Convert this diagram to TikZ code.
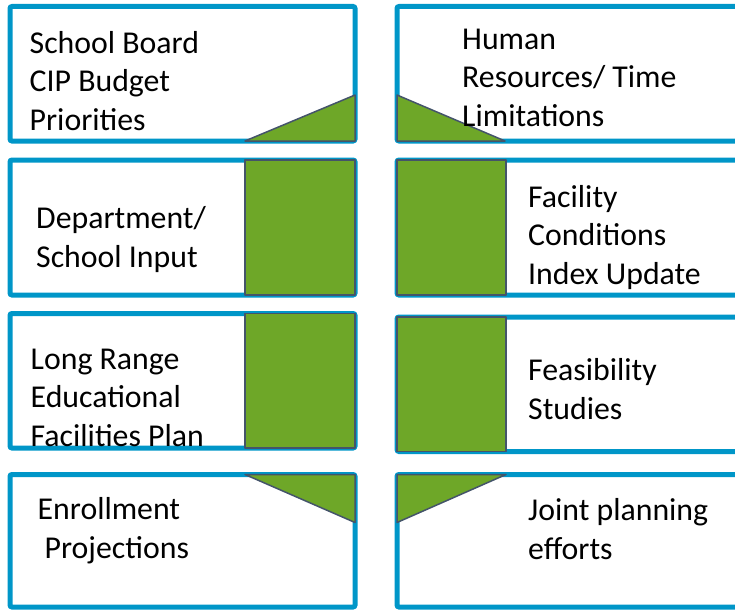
\documentclass[tikz,border=0pt]{standalone}
\usepackage{fontspec}
\setmainfont{Carlito}
\usetikzlibrary{positioning}
\definecolor{frameblue}{RGB}{0,150,200}
\definecolor{leafgreen}{RGB}{110,167,40}
\definecolor{slate}{RGB}{68,84,106}

\begin{document}
\begin{tikzpicture}[x=1pt,y=-1pt,
	frame/.style={draw=frameblue, line width=5pt, rounded corners=2pt, minimum width=345pt, inner sep=0pt, outer sep=0pt},
	wedge/.style={fill=leafgreen, draw=slate, line width=1.5pt, line join=round},
	boxtext/.style={font=\fontsize{31.8}{38.5}\selectfont, align=left, anchor=base west, inner sep=0pt}]

				\useasboundingbox (0,0) rectangle (735,610);
				\clip (0,0) rectangle (735,610);

				% ROW 1

				\node[frame, minimum height=134.5pt] (bl1) at (182.5,73.75) {};
				\node[frame, minimum height=134.5pt] (br1) at (569.5,73.75) {};
				\draw[wedge] (bl1.south east) -- ++(-110,0) -- ++(110,-46) -- cycle;
				\draw[wedge] (br1.south west) -- ++(108,0) -- ++(-108,-46) -- cycle;

				% ROW 2

				\node[frame, minimum height=135pt] (bl2) at (182.5,227.5) {};
				\node[frame, minimum height=135pt] (br2) at (569.5,227.5) {};
				\draw[wedge] (bl2.north east) rectangle ++(-110,135);
				\draw[wedge] (br2.north west) rectangle ++(109,135);

				% ROW 3

				\node[frame, minimum height=134.5pt] (bl3) at (182.5,380.75) {};
				\node[frame, minimum height=134.5pt] (br3) at (569.5,384.25) {};
				\draw[wedge] (bl3.north east) rectangle ++(-110,134.5);
				\draw[wedge] (br3.north west) rectangle ++(109,134.5);

				% ROW 4

				\node[frame, minimum height=132.5pt] (bl4) at (182.5,540.75) {};
				\node[frame, minimum height=132.5pt] (br4) at (569.5,540.75) {};
				\draw[wedge] (bl4.north east) -- ++(-110,0) -- ++(110,48) -- cycle;
				\draw[wedge] (br4.north west) -- ++(109,0) -- ++(-109,48) -- cycle;

				% TEXTS (placed by the baseline of their last line)

				\node[boxtext] (tl1) at (29.5,130) {School Board\\CIP Budget\\Priorities};
				\node[boxtext] (tr1) at (462,126) {Human\\Resources/ Time\\Limitations};
				\node[boxtext] (tl2) at (36,267) {Department/\\School Input};
				\node[boxtext] (tr2) at (528,284) {Facility\\Conditions\\Index Update};
				\node[boxtext] (tl3) at (30.5,446) {Long Range\\Educational\\Facilities Plan};
				\node[boxtext] (tr3) at (528,419) {Feasibility\\Studies};
				\node[boxtext] (tl4) at (37.5,558) {Enrollment\\\hspace*{7pt}Projections};
				\node[boxtext] (tr4) at (528,559) {Joint planning\\efforts};
			\end{tikzpicture}
\end{document}
